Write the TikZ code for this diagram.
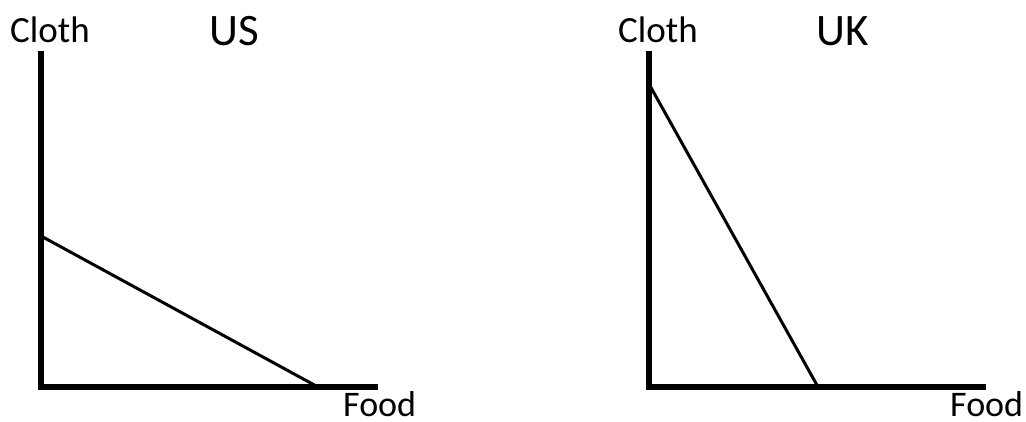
\documentclass[tikz,border=0pt]{standalone}
\usepackage{fontspec}
\setmainfont{Carlito}
\usetikzlibrary{positioning}
\tikzset{
  axis-line/.style={line width=6pt,draw=black,line join=miter},
  ppf-line/.style={line width=3pt,draw=black},
  axis-label/.style={inner sep=0pt,anchor=base west,font=\fontsize{37}{40}\selectfont},
  food-label/.style={inner sep=0pt,anchor=base west,font=\fontsize{36}{40}\selectfont},
  country-label/.style={inner sep=0pt,anchor=base west,font=\fontsize{45}{50}\selectfont},
}
\begin{document}
\begin{tikzpicture}[x=1pt,y=-1pt]
  \useasboundingbox (0,0) rectangle (1026,422);
  % US
  \coordinate (us-top)  at (41,51);
  \coordinate (us-o)    at (41,387);
  \coordinate (us-end)  at (378,387);
  \coordinate (us-c)    at (41,236);
  \coordinate (us-f)    at (318,387);
  \draw[axis-line] (us-top) -- (us-o) -- (us-end);
  \draw[ppf-line] (us-c) -- (us-f);
  \node[axis-label] (us-cloth) at (10,43) {Cloth};
  \node[country-label] (us-name) at (209,46) {US};
  \node[food-label] (us-food) at (343,416) {Food};
  % UK
  \coordinate (uk-top)  at (649,51);
  \coordinate (uk-o)    at (649,387);
  \coordinate (uk-end)  at (986,387);
  \coordinate (uk-c)    at (649,84);
  \coordinate (uk-f)    at (818,387);
  \draw[axis-line] (uk-top) -- (uk-o) -- (uk-end);
  \draw[ppf-line] (uk-c) -- (uk-f);
  \node[axis-label] (uk-cloth) at (618,43) {Cloth};
  \node[country-label] (uk-name) at (816,46) {UK};
  \node[food-label] (uk-food) at (950,416) {Food};
\end{tikzpicture}
\end{document}
